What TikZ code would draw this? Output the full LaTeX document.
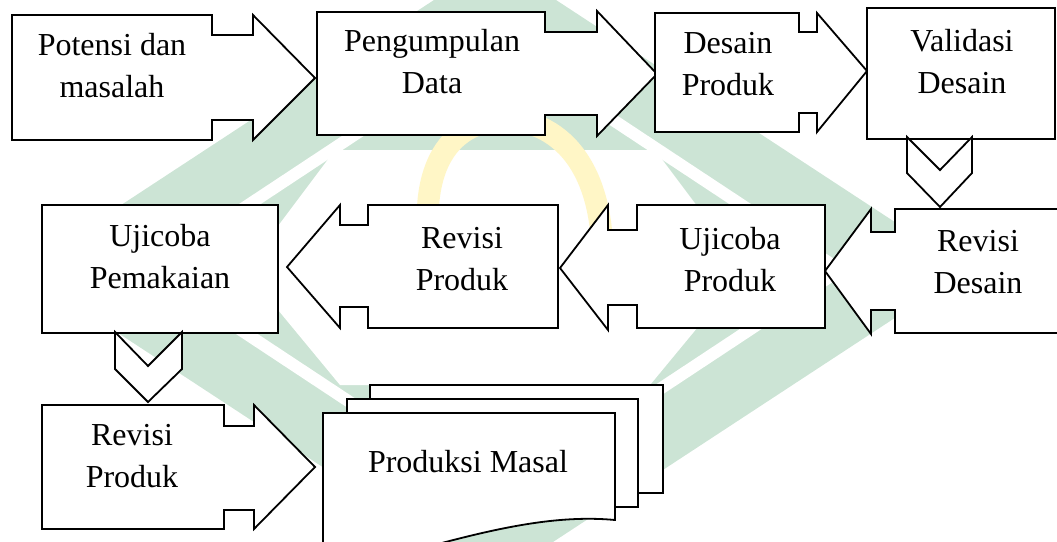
\documentclass[tikz,border=0pt]{standalone}
\usepackage{fontspec}
\setmainfont{Liberation Serif}
\usepackage{tikz}

\definecolor{wmgreen}{RGB}{204,228,213}
\definecolor{wmyellow}{RGB}{255,246,198}

\begin{document}
\begin{tikzpicture}[
        x=1pt, y=-1pt,
        callout/.style={draw=black, line width=1.8pt, fill=white, line join=miter},
        chev/.style={draw=black, line width=1.8pt, fill=white, line join=miter},
        doc/.style={draw=black, line width=1.8pt, fill=white},
        label/.style={align=center, inner sep=0pt, font=\fontsize{32}{42}\selectfont}
    ]
        \useasboundingbox (0,0) rectangle (1057,541);
        \clip (0,0) rectangle (1057,541);

        % Watermark
        \begin{scope}
            \clip (44,-10) rectangle (1057,551);
            \fill[wmgreen] (22,270) -- (495,-40) -- (968,270) -- (495,580) -- cycle;
            \draw[white, line width=12pt] (150,270) -- (495,42) -- (840,270) -- (495,498) -- cycle;
            \fill[white] (335,150) -- (655,150) -- (745,270) -- (650,385) -- (340,385) -- (245,270) -- cycle;
            \draw[wmyellow, line width=22pt] (440,300) .. controls (405,170) and (450,120) .. (505,120)
                .. controls (560,120) and (615,170) .. (600,300);
        \end{scope}

        % Row 1
        \draw[callout] (12,15) -- (212,15) -- (212,35) -- (253,35) -- (253,15) -- (315,78)
            -- (253,140) -- (253,120) -- (212,120) -- (212,140) -- (12,140) -- cycle;
        \node[label] (potensi) at (112,66) {Potensi dan\\masalah};

        \draw[callout] (317,12) -- (545,12) -- (545,32) -- (597,32) -- (597,11) -- (657,74)
            -- (597,136) -- (597,115) -- (545,115) -- (545,135) -- (317,135) -- cycle;
        \node[label] (pengumpulan) at (432,62) {Pengumpulan\\Data};

        \draw[callout] (655,13) -- (799,13) -- (799,32) -- (817,32) -- (817,13) -- (867,71)
            -- (817,132) -- (817,113) -- (799,113) -- (799,132) -- (655,132) -- cycle;
        \node[label] (desain) at (728,64) {Desain\\Produk};

        \draw[callout] (867,8) rectangle (1055,139);
        \node[label] (validasi) at (962,62) {Validasi\\Desain};

        \draw[chev] (907,137) -- (940,170) -- (972,137) -- (972,173) -- (940,207) -- (907,173) -- cycle;

        % Row 2
        \draw[callout] (1075,209) -- (895,209) -- (895,232) -- (871,232) -- (871,209) -- (825,271)
            -- (871,334) -- (871,310) -- (895,310) -- (895,333) -- (1075,333);
        \node[label] (revisidesain) at (978,262) {Revisi\\Desain};

        \draw[callout] (825,205) -- (637,205) -- (637,230) -- (608,230) -- (608,205) -- (560,268)
            -- (608,330) -- (608,305) -- (637,305) -- (637,328) -- (825,328) -- cycle;
        \node[label] (ujicobaproduk) at (730,260) {Ujicoba\\Produk};

        \draw[callout] (558,205) -- (368,205) -- (368,225) -- (340,225) -- (340,205) -- (287,267)
            -- (340,328) -- (340,307) -- (368,307) -- (368,328) -- (558,328) -- cycle;
        \node[label] (revisiproduk) at (462,259) {Revisi\\Produk};

        \draw[callout] (42,205) rectangle (278,333);
        \node[label] (pemakaian) at (160,257) {Ujicoba\\Pemakaian};

        \draw[chev] (115,332) -- (148,366) -- (182,332) -- (182,369) -- (148,402) -- (115,369) -- cycle;

        % Row 3
        \draw[callout] (42,405) -- (224,405) -- (224,426) -- (254,426) -- (254,405) -- (315,467)
            -- (254,529) -- (254,510) -- (224,510) -- (224,529) -- (42,529) -- cycle;
        \node[label] (revisiakhir) at (132,456) {Revisi\\Produk};

        \draw[doc] (370,385) rectangle (663,493);
        \draw[doc] (347,399) rectangle (638,507);
        \draw[doc] (323,413) -- (615,413) -- (615,520) .. controls (530,512) and (440,545) .. (323,575) -- cycle;
        \node[label] (produksi) at (468,462) {Produksi Masal};

    \end{tikzpicture}
\end{document}
